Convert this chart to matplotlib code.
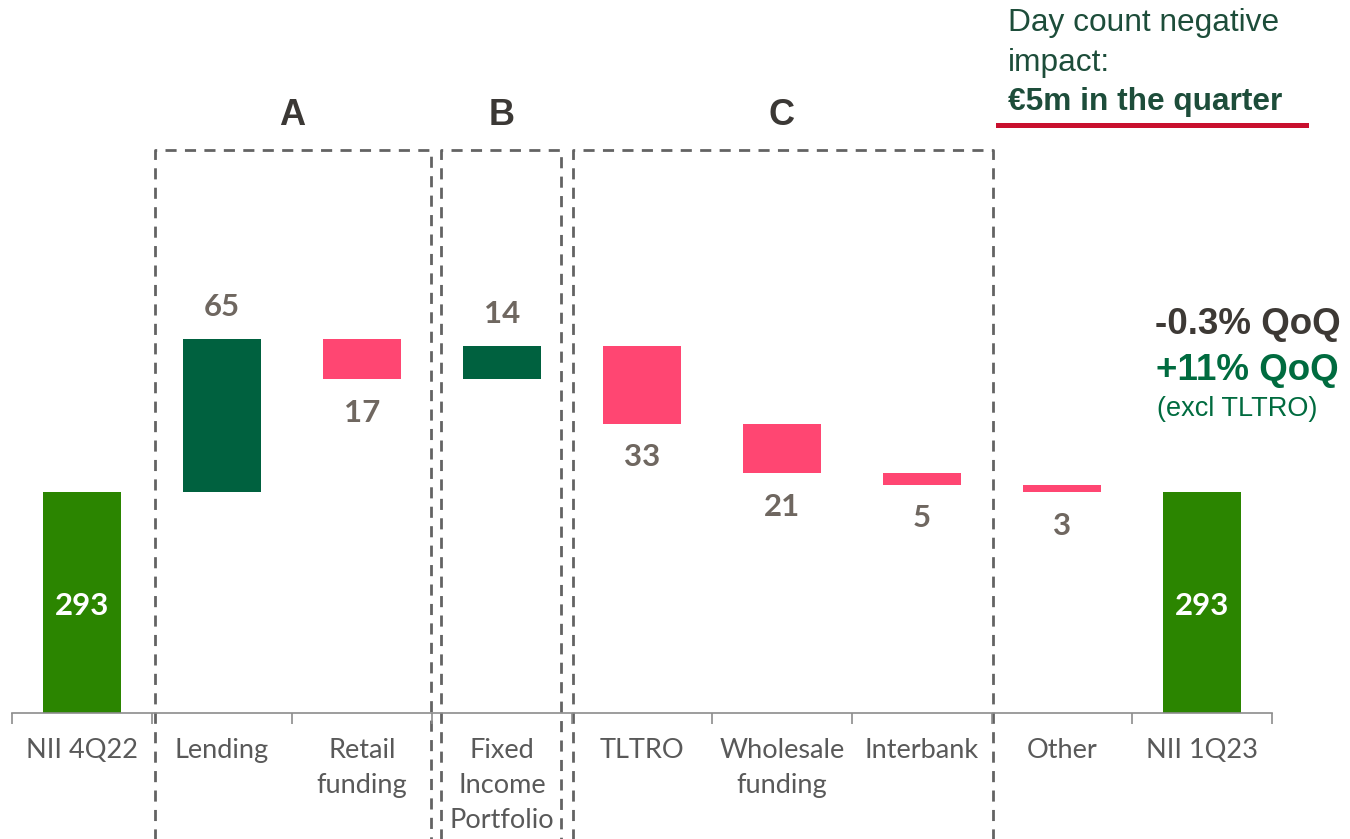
import numpy as np
import matplotlib
matplotlib.use('Agg')
import matplotlib.pyplot as plt

# ── Data ────────────────────────────────────────────────────────────
categories = ['NII 4Q22', 'Lending', 'Retail\nfunding', 'Fixed\nIncome\nPortfolio',
              'TLTRO', 'Wholesale\nfunding', 'Interbank', 'Other', 'NII 1Q23']
start_value = 293
deltas = [65, -17, 14, -33, -21, -5, -3]
end_value = 293

groups = ['A', 'B', 'C']
group_spans = [(1, 2), (3, 3), (4, 6)]

# ── Style ───────────────────────────────────────────────────────────
C_TOTAL = '#2b8500'
C_POS = '#00613f'
C_NEG = '#ff4672'
C_LABEL = '#6f6760'
C_TICK = '#595959'
C_BOX = '#636363'
C_DARKGREEN = '#1d4d3a'
C_GREEN = '#006b3f'
C_RED = '#c8102e'

W, H = 1350, 839
fig = plt.figure(figsize=(W / 100, H / 100), dpi=100)
px_per_unit = 2.35
y0 = 199
ax = fig.add_axes([12 / W, (H - 713) / H, 1260 / W, 713 / H])
ax.set_xlim(-0.5, 8.5)
ax.set_ylim(y0, y0 + 713 / px_per_unit)

bw = 78 / 140
x = np.arange(len(categories))

# totals
ax.bar([0, 8], [start_value - y0, end_value - y0], bottom=y0, width=bw,
       color=C_TOTAL, zorder=2)
for xi, v in [(0, start_value), (8, end_value)]:
    ax.text(xi, (v + y0) / 2 - 3 / px_per_unit, f'{v}', ha='center', va='center',
            color='white', fontsize=22.5, fontweight='bold', family='Lato')

# waterfall steps
level = start_value
for i, d in enumerate(deltas, start=1):
    lo, hi = (level, level + d) if d > 0 else (level + d, level)
    ax.bar(i, hi - lo, bottom=lo, width=bw, color=C_POS if d > 0 else C_NEG,
           zorder=2)
    if d > 0:
        ax.annotate(f'{abs(d)}', (i, hi), xytext=(0, 13), textcoords='offset points',
                    ha='center', va='bottom', color=C_LABEL, fontsize=22.5,
                    fontweight='bold', family='Lato')
    else:
        ax.annotate(f'{abs(d)}', (i, lo), xytext=(0, -14), textcoords='offset points',
                    ha='center', va='top', color=C_LABEL, fontsize=22.5,
                    fontweight='bold', family='Lato')
    level += d

# axis
for s in ['top', 'right', 'left']:
    ax.spines[s].set_visible(False)
ax.spines['bottom'].set_color('#8c8c8c')
ax.spines['bottom'].set_linewidth(1.2)
ax.set_yticks([])
ax.set_xticks(x)
ax.set_xticklabels(categories, fontsize=19.5, color=C_TICK, family='Lato',
                   linespacing=1.5)
ax.tick_params(axis='x', which='major', length=0, pad=18)
ax.set_xticks(np.arange(-0.5, 9, 1), minor=True)
ax.tick_params(axis='x', which='minor', length=8, color='#8c8c8c', width=1.2)

# dashed group boxes
box_top = y0 + (713 - 150) / px_per_unit
box_bot = y0 - 200
edges = [(0.521, 2.493), (2.564, 3.421), (3.507, 6.507)]
for (gl, gr), g, (a, b) in zip(edges, groups, group_spans):
    ax.plot([gl, gl, gr, gr], [box_bot, box_top, box_top, box_bot],
            color=C_BOX, lw=2, ls=(0, (4, 3)), clip_on=False, zorder=1)
    ax.text((a + b) / 2, box_top + 35 / px_per_unit, g, ha='center', va='center',
            fontsize=26, fontweight='bold', color='#3b3835',
            family='Liberation Sans')

# right-hand notes
fig.text(1008 / W, 1 - 23 / H, 'Day count negative', ha='left', va='center',
         fontsize=22.8, color=C_DARKGREEN, family='Liberation Sans')
fig.text(1008 / W, 1 - 63 / H, 'impact:', ha='left', va='center',
         fontsize=22.8, color=C_DARKGREEN, family='Liberation Sans')
fig.text(1008 / W, 1 - 102 / H, '€5m in the quarter', ha='left', va='center',
         fontsize=22.8, color=C_DARKGREEN, fontweight='bold',
         family='Liberation Sans')
fig.add_artist(plt.Line2D([998 / W, 1306 / W], [1 - 125 / H, 1 - 125 / H],
                          color=C_RED, lw=3.6, transform=fig.transFigure))

fig.text(1155 / W, 1 - 325 / H, '-0.3% QoQ', ha='left', va='center',
         fontsize=26.5, color='#3d3935', fontweight='bold', family='Liberation Sans')
fig.text(1156 / W, 1 - 370 / H, '+11% QoQ', ha='left', va='center',
         fontsize=26.5, color=C_GREEN, fontweight='bold', family='Liberation Sans')
fig.text(1157 / W, 1 - 409 / H, '(excl TLTRO)', ha='left', va='center',
         fontsize=19.5, color=C_GREEN, family='Liberation Sans')

fig.savefig('out.png', dpi=100)
